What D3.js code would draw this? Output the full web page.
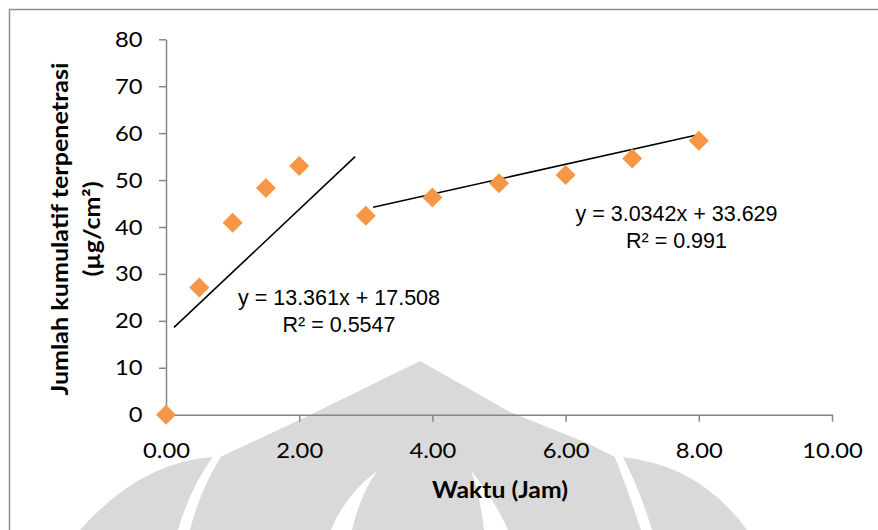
<!DOCTYPE html>
<html>
<head>
<meta charset="utf-8">
<script src="https://cdn.jsdelivr.net/npm/d3@7"></script>
<style>
  body { margin: 0; background: #fff; }
  svg { display: block; }
</style>
</head>
<body>
<svg id="chart" width="878" height="530"></svg>
<script>
// data
const timeHours = [0, 0.5, 1, 1.5, 2, 3, 4, 5, 6, 7, 8];
const cumulative = [0, 27.1, 40.9, 48.3, 53.0, 42.4, 46.3, 49.3, 51.1, 54.6, 58.4];
const xTicks = [0, 2, 4, 6, 8, 10];
const yTicks = [0, 10, 20, 30, 40, 50, 60, 70, 80];
// trend line end points (as drawn)
const trend1X = [0.12, 2.84];
const trend1Y = [18.6, 55.0];
const trend2X = [3.11, 7.97];
const trend2Y = [44.2, 59.6];
const eq1 = ['y = 13.361x + 17.508', 'R² = 0.5547'];
const eq2 = ['y = 3.0342x + 33.629', 'R² = 0.991'];

const svg = d3.select('#chart');
const calibri = 'Lato, Carlito, Calibri, sans-serif';
const arial = '"Liberation Sans", Arial, sans-serif';
const stretch = 1.08; // the original is a little wider than Lato

let x = d3.scaleLinear().domain([0, 10]).range([166, 832]);
let y = d3.scaleLinear().domain([0, 80]).range([414.7, 39.3]);

// faint watermark in the background
const wm = svg.append('g');
wm.append('path')
  .attr('d', 'M420,361 L510,412 L587,443 L617,458 L622,457 Q700,465 747,530 L80,530 Q140,462 213,457 L220,457 L310,415 Z')
  .attr('fill', '#d9d9d9');
const gaps = [
  'M214,455 L222,455 Q200,490 190,530 L178,530 Q190,488 214,455 Z',
  'M614,455 L622,455 Q640,490 652,530 L641,530 Q628,490 614,455 Z',
  'M377,471 Q345,495 331,530 L352,530 Q360,495 377,471 Z',
  'M471,471 Q480,495 484,530 L508,530 Q492,495 471,471 Z'
];
gaps.forEach((g) => wm.append('path').attr('d', g).attr('fill', '#fff'));

// outer frame
svg.append('rect')
  .attr('x', 9.5).attr('y', 9.5)
  .attr('width', 1000).attr('height', 700)
  .attr('fill', 'none')
  .attr('stroke', '#8f8f8f')
  .attr('stroke-width', 1.5);

// axes
let yAxis = svg.append('g')
  .attr('transform', `translate(${x(0)},0)`)
  .call(d3.axisLeft(y).tickValues(yTicks).tickSize(7).tickSizeOuter(0));
let xAxis = svg.append('g')
  .attr('transform', `translate(0,${y(0)})`)
  .call(d3.axisBottom(x).tickValues(xTicks).tickFormat(d3.format('.2f')).tickSize(7).tickSizeOuter(0));

[yAxis, xAxis].forEach((a) => {
  a.select('.domain').attr('stroke', '#868686').attr('stroke-width', 1.5);
  a.selectAll('.tick line').attr('stroke', '#868686').attr('stroke-width', 1.5);
  a.selectAll('.tick text')
    .attr('fill', '#000')
    .attr('transform', `scale(${stretch},1)`)
    .style('font-family', calibri)
    .style('font-size', '22px');
});
yAxis.selectAll('.tick text').attr('x', -23.5 / stretch);
xAxis.selectAll('.tick text').attr('y', 43.5).attr('dy', 0);

// trend lines
let line = d3.line().x((d) => x(d[0])).y((d) => y(d[1]));
[[trend1X, trend1Y], [trend2X, trend2Y]].forEach(([tx, ty]) => {
  svg.append('path')
    .attr('d', line(d3.zip(tx, ty)))
    .attr('fill', 'none')
    .attr('stroke', '#000')
    .attr('stroke-width', 1.6);
});

// data points
let diamond = d3.symbol().type(d3.symbolSquare).size(200);
svg.append('g')
  .selectAll('path')
  .data(d3.zip(timeHours, cumulative))
  .join('path')
  .attr('d', diamond)
  .attr('transform', (d) => `translate(${x(d[0])},${y(d[1])}) rotate(45)`)
  .attr('fill', '#f79646');

// trend equations
function equation(lines, cx, by) {
  svg.append('g').selectAll('text')
    .data(lines)
    .join('text')
    .attr('x', cx)
    .attr('y', (d, i) => by + i * 27)
    .attr('text-anchor', 'middle')
    .style('font-family', arial)
    .style('font-size', '21.5px')
    .attr('fill', '#000')
    .text((d) => d);
}
equation(eq1, 339, 305);
equation(eq2, 676.5, 221);

// axis titles
svg.append('text')
  .attr('x', 500).attr('y', 498)
  .attr('text-anchor', 'middle')
  .attr('textLength', 136)
  .attr('lengthAdjust', 'spacingAndGlyphs')
  .style('font-family', calibri)
  .style('font-weight', 'bold')
  .style('font-size', '22px')
  .text('Waktu (Jam)');

let yTitle = ['Jumlah kumulatif terpenetrasi', '(µg/cm²)'];
let yTitleLen = [333, 95];
yTitle.forEach((t, i) => {
  svg.append('text')
    .attr('transform', `translate(${68 + i * 32},229) rotate(-90)`)
    .attr('text-anchor', 'middle')
    .attr('textLength', yTitleLen[i])
    .attr('lengthAdjust', 'spacingAndGlyphs')
    .style('font-family', calibri)
    .style('font-weight', 'bold')
    .style('font-size', '22px')
    .text(t);
});
</script>
</body>
</html>
